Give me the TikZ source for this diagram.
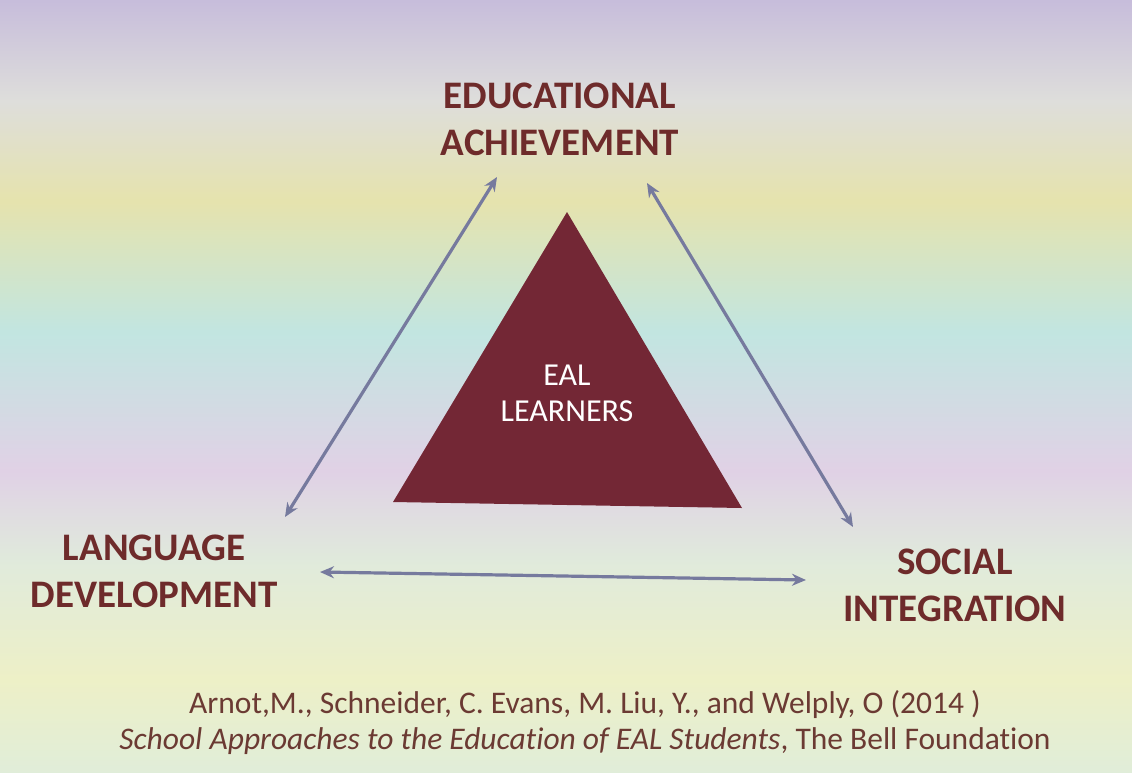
\documentclass[tikz,border=0pt]{standalone}
\usepackage{fontspec}
\setmainfont{Carlito}[Ligatures=NoCommon]
\usetikzlibrary{arrows.meta}
\definecolor{titlered}{HTML}{6E2B2B}
\definecolor{trifill}{HTML}{732735}
\definecolor{arrowc}{HTML}{767A9E}
\definecolor{citec}{HTML}{6B3A33}
% PGF maps the 25bp..75bp band of a shading onto the path: 75bp = top, 25bp = bottom
\pgfdeclareverticalshading{slidebg}{100bp}{rgb(0bp)=(0.88,0.93,0.85); rgb(25bp)=(0.88,0.93,0.85); rgb(31bp)=(0.93,0.94,0.78); rgb(38.5bp)=(0.88,0.92,0.86); rgb(44.5bp)=(0.88,0.82,0.90); rgb(53.5bp)=(0.76,0.90,0.88); rgb(62bp)=(0.90,0.89,0.68); rgb(68.5bp)=(0.87,0.87,0.86); rgb(75bp)=(0.78,0.74,0.86); rgb(100bp)=(0.78,0.74,0.86)}
\tikzset{
  title/.style={text=titlered, font=\fontsize{39}{47}\selectfont\bfseries, align=center, inner sep=0pt},
  inner/.style={text=white, font=\fontsize{32}{36}\selectfont, align=center, inner sep=0pt},
  cite/.style={text=citec, font=\fontsize{31.5}{36}\selectfont, align=center, inner sep=0pt},
  link/.style={draw=arrowc, line width=3.2pt, {Stealth[length=14pt,width=12pt]}-{Stealth[length=14pt,width=12pt]}},
  tri/.style={fill=trifill}
}
\begin{document}
\begin{tikzpicture}[x=1pt,y=-1pt]
\useasboundingbox (0,0) rectangle (1132,772);
\shade[shading=slidebg] (0,0) rectangle (1132,772);
% triangle
\fill[tri] (567,212) -- (393,502) -- (742,508) -- cycle;
\node[inner] (eal) at (567,393) {EAL\\LEARNERS};
% corner labels
\node[title] (edu) at (560,119) {EDUCATIONAL\\ACHIEVEMENT};
\node[title] (lang) at (154,571) {LANGUAGE\\DEVELOPMENT};
\node[title] (soc) at (955,585) {SOCIAL\\INTEGRATION};
% arrow end points
\coordinate (eduL) at (497,177);
\coordinate (eduR) at (647,183);
\coordinate (langT) at (285,517);
\coordinate (langR) at (320,572);
\coordinate (socT) at (853,527);
\coordinate (socL) at (806,580);
\draw[link] (langT) -- (eduL);
\draw[link] (eduR) -- (socT);
\draw[link] (langR) -- (socL);
% citation
\node[cite] (cite) at (585,723) {Arnot,M., Schneider, C. Evans, M. Liu, Y., and Welply, O (2014 )\\\textit{School Approaches to the Education of EAL Students}, The Bell Foundation};
\end{tikzpicture}
\end{document}
